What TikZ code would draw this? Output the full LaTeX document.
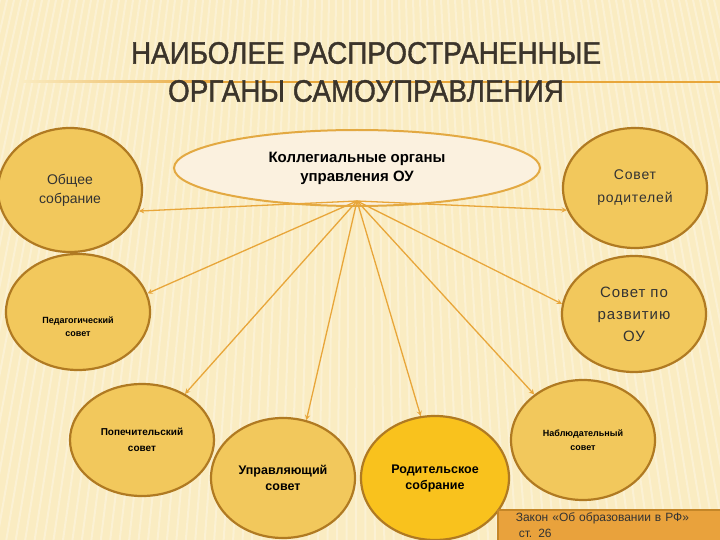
\documentclass[tikz,border=0pt]{standalone}
\usepackage{fontspec}
\setmainfont{Liberation Sans}
\newfontfamily\titlefont[FakeStretch=0.9,FakeBold=1.2]{Liberation Sans}
\newfontfamily\spacedfont[LetterSpace=6]{Liberation Sans}
\usetikzlibrary{shapes,arrows,positioning,calc}

\definecolor{bgcream}{HTML}{FAECC2}
\definecolor{circfill}{HTML}{F2C85C}
\definecolor{circedge}{HTML}{B07A22}
\definecolor{goldfill}{HTML}{F9C21D}
\definecolor{ovalfill}{HTML}{FBF1DF}
\definecolor{ovaledge}{HTML}{E3A942}
\definecolor{linkcol}{HTML}{E8A63A}
\definecolor{titlecol}{HTML}{3B342B}
\definecolor{lawfill}{HTML}{E9A23C}
\definecolor{lawedge}{HTML}{C48628}

\tikzset{
  organ/.style={ellipse, draw=circedge, line width=2.2pt, fill=circfill,
    minimum width=144pt, minimum height=120pt, inner sep=0pt, align=center, text=black},
  link/.style={->, >=stealth, draw=linkcol, line width=1.3pt},
}

\begin{document}
\begin{tikzpicture}[x=1pt,y=-1pt]
  \useasboundingbox (0,0) rectangle (720,540);
  \clip (0,0) rectangle (720,540);
  % background with soft stripes
  \fill[bgcream] (0,0) rectangle (720,540);
  \foreach \x in {0,7,...,720}
    \draw[white,opacity=0.3,line width=2pt] (\x,0) -- ({360+(\x-360)*1.35},540);
  \shade[left color=bgcream, right color=linkcol] (20,81) rectangle (220,83);
  \fill[linkcol] (220,81) rectangle (720,83);

  \node[font=\titlefont\fontsize{31}{38}\selectfont, text=titlecol, align=center] (title) at (366,72)
    {НАИБОЛЕЕ РАСПРОСТРАНЕННЫЕ\\ОРГАНЫ САМОУПРАВЛЕНИЯ};

  % central oval
  \node[ellipse, draw=ovaledge, line width=2pt, fill=ovalfill, minimum width=366pt, minimum height=76pt,
    align=center, font=\bfseries\fontsize{15}{19}\selectfont] (kol) at (357,168)
    {Коллегиальные органы\\управления ОУ};
  \coordinate (hub) at (357,201);

  % the bodies
  \node[organ, minimum height=124pt, font=\fontsize{14}{19}\selectfont, text=black!80] (obshee) at (70,190) {Общее\\собрание};
  \node[organ, minimum height=116pt, label={[font=\bfseries\fontsize{9}{13}\selectfont, align=center, yshift=-15pt]center:Педагогический\\совет}] (ped) at (78,312) {};
  \node[organ, minimum height=112pt, font=\bfseries\fontsize{10}{16}\selectfont] (pop) at (142,440) {Попечительский\\совет};
  \node[organ, font=\bfseries\fontsize{12.5}{16}\selectfont] (upr) at (283,478) {Управляющий\\совет};
  \node[organ, fill=goldfill, minimum width=148pt, minimum height=124pt, font=\bfseries\fontsize{12.5}{16}\selectfont] (rod) at (435,478) {Родительское\\собрание};
  \node[organ, font=\bfseries\fontsize{9}{14}\selectfont] (nab) at (583,440) {Наблюдательный\\совет};
  \node[organ, font=\spacedfont\fontsize{14}{23}\selectfont, text=black!80] (rodit) at (635,188) {Совет\\родителей};
  \node[organ, minimum height=116pt, font=\spacedfont\fontsize{15}{22}\selectfont, text=black!80] (razv) at (634,314) {Совет по\\развитию\\ОУ};

  \foreach \t/\a in {obshee/-17, ped/15, pop/47, upr/68, rod/103, nab/137, razv/172, rodit/-162}
    \draw[link] (hub) -- (\t.\a);

  % source note
  \node[draw=lawedge, line width=1.5pt, fill=lawfill, anchor=north west, inner xsep=18pt, inner ysep=3pt,
    text width=188pt, align=left, font=\fontsize{12}{16}\selectfont, text=black!80] (law) at (497,509)
    {Закон «Об образовании в РФ»\\\hspace*{3pt}ст. 26};
\end{tikzpicture}
\end{document}
